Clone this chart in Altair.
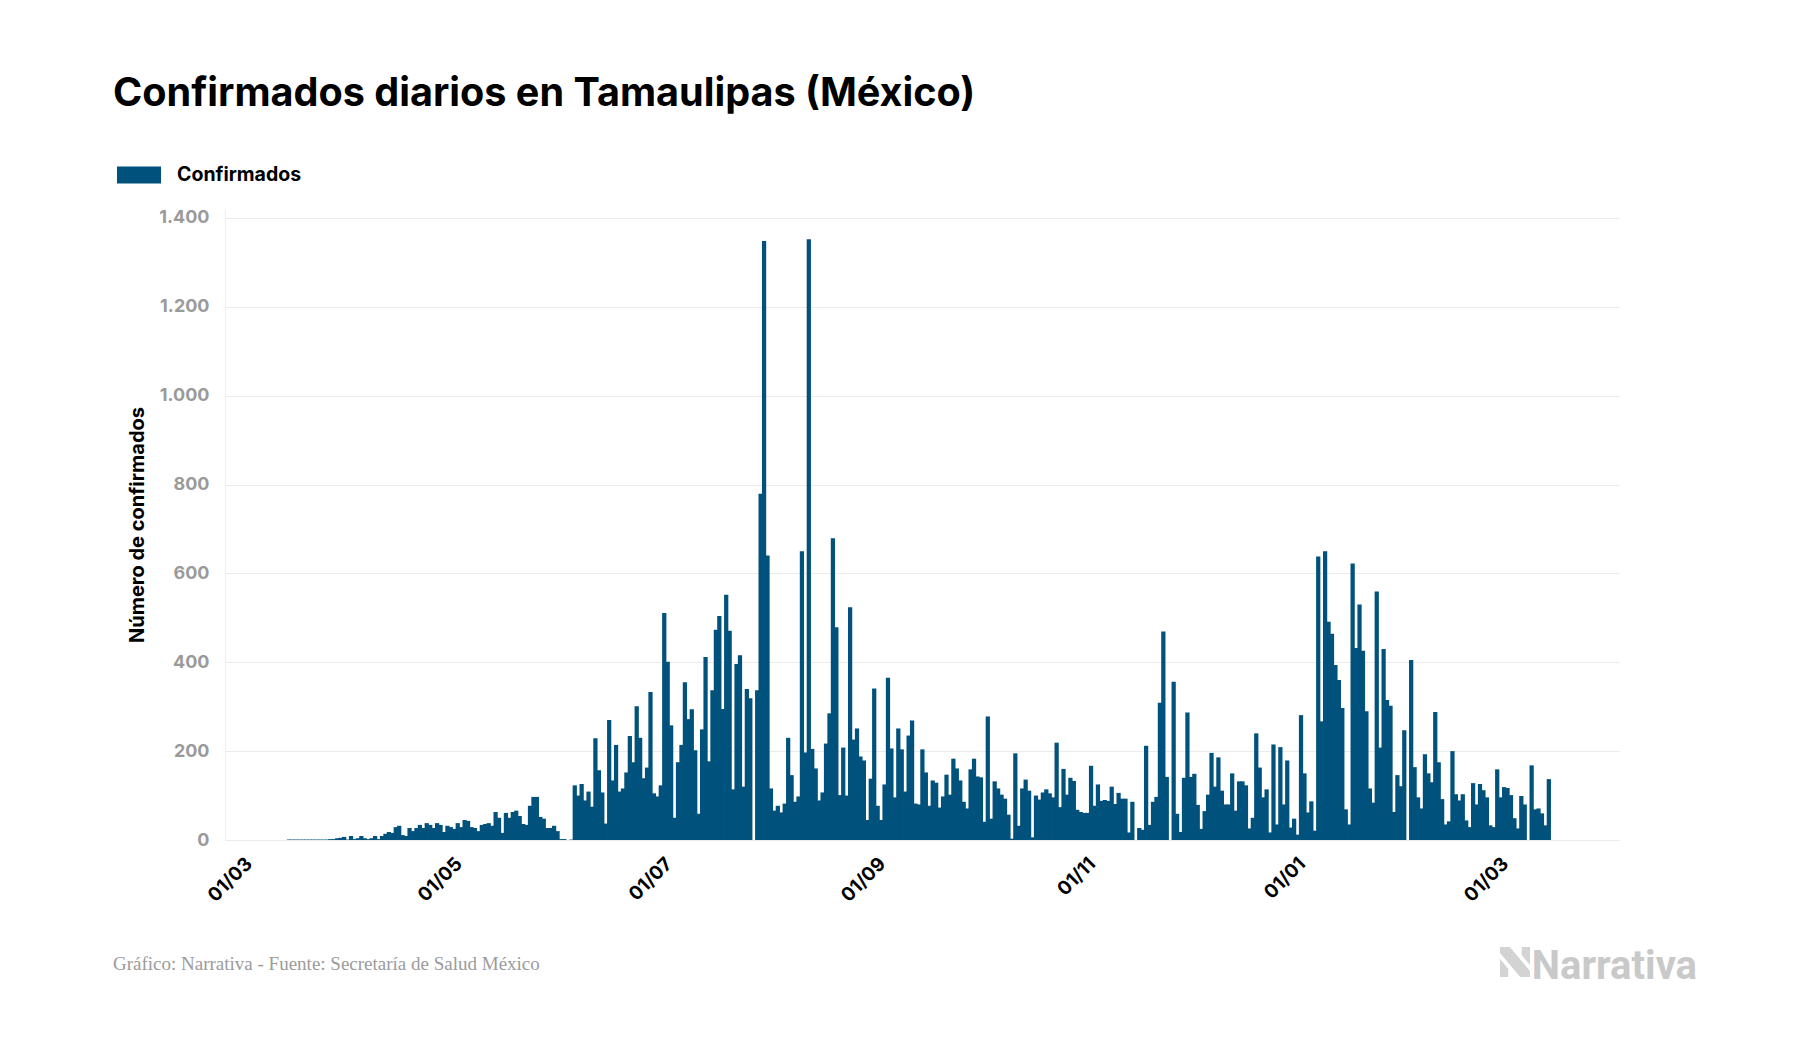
import altair as alt
import pandas as pd

# ---- data (daily confirmed cases, Tamaulipas) ----
start_date = "2020-03-14"

marzo = [1, 1, 1, 1, 1, 1, 1, 1, 1, 1, 1, 1]
abril_mayo = [2, 2, 4, 5, 7, 1, 9, 2, 4, 9, 4, 2, 4, 9, 2, 9, 14, 18, 16, 29,
              32, 11, 9, 27, 20, 27, 34, 27, 38, 34, 27, 38, 34, 18, 32, 29, 25, 38, 29, 45,
              43, 29, 27, 20, 34, 36, 38, 32, 63, 50, 16, 61, 50, 63, 66, 54, 36, 34, 77, 97,
              97, 52, 48, 27, 27, 32, 20, 2, 2, 0, 1]
junio_julio = [123, 100, 126, 89, 109, 75, 229, 157, 107, 37, 270, 134, 214, 109, 116, 152, 234, 175, 301, 230,
               139, 163, 333, 105, 98, 123, 511, 401, 258, 50, 175, 214, 355, 272, 294, 202, 59, 249, 412, 177,
               337, 473, 504, 295, 552, 471, 114, 396, 416, 120, 340]
julio_agosto = [319, 0, 337, 779, 1348, 640, 116, 66, 77, 62, 82, 230, 146, 86, 98, 650, 197, 1352, 205, 161,
                89, 107, 217, 285, 679, 479, 101, 208, 100, 524, 226, 251, 188, 179, 45, 138, 341, 77, 45, 125,
                365, 206, 96]
sept_oct = [251, 204, 109, 235, 269, 82, 80, 204, 152, 77, 134, 129, 73, 98, 147, 102, 183, 161, 134, 86,
            71, 159, 183, 143, 141, 41, 278, 48, 132, 116, 102, 93, 57, 3, 195, 32, 116, 136, 111, 6,
            100, 91, 107, 114, 105, 96]
oct_dic = [219, 74, 160, 102, 140, 133, 68, 63, 61, 61, 167, 77, 125, 88, 90, 88, 120, 81, 106, 93,
           93, 17, 86, 0, 27, 23, 212, 34, 86, 97, 309, 469, 142, 0, 356, 59, 18, 140, 287, 142,
           149, 79, 25, 65, 102, 196, 120]
dic_ene = [186, 111, 80, 80, 150, 66, 132, 132, 123, 26, 50, 240, 163, 96, 114, 17, 215, 35, 209, 80,
           179, 28, 48, 12, 281, 150, 62, 87, 21, 638, 267, 650, 491, 464, 394, 360, 297, 69, 35, 622,
           432, 530, 426, 290, 116, 84]
ene_mar = [559, 208, 430, 315, 302, 63, 146, 121, 247, 0, 405, 164, 96, 71, 193, 150, 130, 288, 175, 92,
           35, 42, 200, 103, 89, 103, 44, 29, 128, 80, 126, 112, 96, 33, 29, 159, 96, 119, 117, 101,
           49, 26, 99, 80, 0, 168, 69, 71, 60, 33, 137]

valores = marzo + abril_mayo + junio_julio + julio_agosto + sept_oct + oct_dic + dic_ene + ene_mar

y_ticks = [0, 200, 400, 600, 800, 1000, 1200, 1400]
x_ticks = [(2020, 3), (2020, 5), (2020, 7), (2020, 9), (2020, 11), (2021, 1), (2021, 3)]

titulo = "Confirmados diarios en Tamaulipas (México)"
serie = "Confirmados"
fuente = "Gráfico: Narrativa - Fuente: Secretaría de Salud México"
marca = "Narrativa"

BLUE = "#00527C"
FONT = "Inter"

fechas = pd.date_range(start_date, periods=len(valores), freq="D")
df = pd.DataFrame({
    "fecha": fechas.strftime("%Y-%m-%d"),
    "fin": (fechas + pd.Timedelta(days=1)).strftime("%Y-%m-%d"),
    "confirmados": valores,
    "serie": serie,
})

x_scale = alt.Scale(
    type="utc",
    domain=[alt.DateTime(year=2020, month=2, date=25, utc=True),
            alt.DateTime(year=2021, month=4, date=5, utc=True)],
)

bars = alt.Chart(df).mark_bar(opacity=1, x2Offset=0.8).encode(
    x=alt.X("fecha:T", scale=x_scale,
            axis=alt.Axis(values=[alt.DateTime(year=y, month=m, date=1, utc=True) for y, m in x_ticks],
                          labelExpr="utcFormat(datum.value, '%d/%m')",
                          labelAngle=315, labelFontSize=19, labelFont=FONT, labelFontWeight="bold",
                          labelColor="black", ticks=False, domain=False, grid=False,
                          labelPadding=14, labelOverlap=False, title=None)),
    x2="fin:T",
    y=alt.Y("confirmados:Q", scale=alt.Scale(domain=[0, 1420], nice=False),
            axis=alt.Axis(values=y_ticks,
                          labelExpr="replace(format(datum.value, ','), ',', '.')",
                          labelFontSize=18, labelFont=FONT, labelFontWeight="bold", labelColor="#9a9a9a",
                          labelPadding=16, ticks=False, domain=True, domainColor="#eeeeee",
                          gridColor="#ebebeb", title="Número de confirmados", titleFontSize=20,
                          titleFont=FONT, titleFontWeight="bold", titleColor="black", titlePadding=11)),
    y2=alt.datum(0),
    color=alt.Color("serie:N", scale=alt.Scale(range=[BLUE]),
                    legend=alt.Legend(title=None, orient="none", legendX=-108, legendY=-56,
                                      symbolType="M-1,-0.386H1V0.386H-1Z", symbolSize=1936,
                                      symbolStrokeWidth=0, symbolOpacity=1,
                                      labelFontSize=19.5, labelFont=FONT, labelFontWeight="bold",
                                      labelColor="black", labelOffset=16, padding=0)),
)

txt_df = pd.DataFrame({"t": [fuente]})
footer = alt.Chart(txt_df).mark_text(
    align="left", baseline="alphabetic", font="Liberation Serif", fontSize=19, color="#9b9b9b"
).encode(x=alt.value(-112), y=alt.value(761), text="t:N")

logo_df = pd.DataFrame({"t": [marca]})
logo = alt.Chart(logo_df).mark_text(
    align="right", baseline="alphabetic", font="Roboto", fontWeight="bold", fontSize=40, color="#c9c9c9"
).encode(x=alt.value(1472), y=alt.value(770), text="t:N")

icon = alt.Chart(logo_df).mark_point(
    shape="M-1,-1L-0.35,-1L1,0.6L1,1L0.35,1L-1,-0.6Z M-1,-0.2L-0.45,0.45L-0.45,1L-1,1Z M1,0.2L0.45,-0.45L0.45,-1L1,-1Z",
    size=900, filled=True, color="#d3d3d3", opacity=1, strokeWidth=0
).encode(x=alt.value(1290), y=alt.value(753))

chart = alt.layer(bars, footer, logo, icon).properties(
    width=1394, height=631,
    background="white",
    title=alt.TitleParams(titulo, anchor="start", frame="group", dx=-112, offset=7,
                          fontSize=39.6, font=FONT, fontWeight="bold", color="black",
                          baseline="alphabetic"),
    autosize=alt.AutoSizeParams(type="none"),
    padding={"left": 217, "top": 201, "right": 165, "bottom": 190},
).configure_view(stroke=None)

chart.save("out.html", embed_options={"renderer": "svg", "actions": False})
